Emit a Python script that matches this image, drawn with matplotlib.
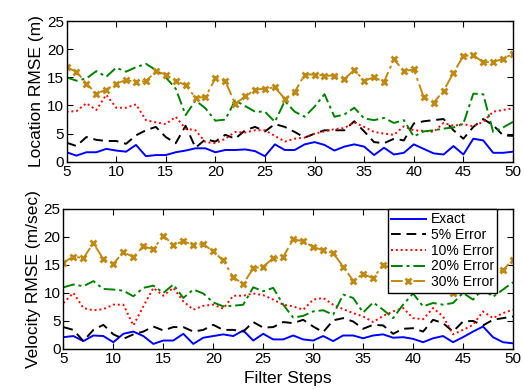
import matplotlib
matplotlib.use("Agg")
import matplotlib.pyplot as plt
import numpy as np

plt.rcParams['font.family'] = ['Liberation Sans', 'DejaVu Sans']

steps = list(range(5, 51))
labels = ['Exact', '5% Error', '10% Error', '20% Error', '30% Error']

# location RMSE (m)
loc_exact = [1.7, 1.1, 1.7, 1.7, 2.3, 2.0, 1.8, 3.0, 1.0, 1.2, 1.2, 1.7, 2.0, 2.4, 2.4, 1.7,
             2.1, 2.1, 2.2, 1.9, 1.0, 3.1, 2.1, 2.1, 3.1, 3.5, 3.0, 2.0, 2.7, 3.1, 2.7, 1.2,
             2.5, 1.3, 1.6, 3.1, 2.3, 1.5, 1.3, 2.8, 1.3, 4.1, 3.8, 1.6, 1.6, 1.8]
loc_5 = [3.4, 2.8, 4.4, 3.9, 3.7, 3.7, 3.2, 4.7, 5.6, 6.2, 4.4, 3.3, 6.4, 2.5, 4.0, 3.6,
         4.8, 4.1, 5.6, 6.2, 5.4, 6.7, 6.2, 5.3, 4.3, 5.0, 5.6, 5.6, 5.6, 7.2, 5.4, 3.5,
         3.3, 4.1, 3.8, 6.8, 7.2, 7.4, 7.6, 5.6, 4.1, 6.2, 7.6, 6.5, 4.7, 4.6]
loc_10 = [8.9, 9.0, 10.4, 9.2, 11.9, 9.6, 9.6, 10.2, 7.4, 7.0, 6.7, 8.0, 5.9, 5.6, 3.5, 3.3,
          4.1, 5.3, 5.2, 5.6, 5.6, 4.6, 3.6, 4.1, 4.3, 5.0, 5.4, 5.8, 6.0, 7.0, 6.2, 5.3,
          5.0, 4.8, 6.3, 5.6, 5.5, 5.3, 6.9, 6.4, 6.7, 6.3, 7.1, 8.9, 9.2, 9.5]
loc_20 = [15.0, 14.4, 14.8, 16.1, 15.1, 16.7, 16.0, 16.8, 17.4, 16.3, 15.0, 13.0, 8.3, 10.9, 9.5, 7.3,
          7.5, 10.9, 9.9, 8.9, 8.9, 7.1, 10.8, 8.9, 8.0, 9.8, 12.0, 8.0, 8.4, 9.6, 7.7, 7.4,
          7.8, 6.9, 7.4, 4.5, 5.4, 5.6, 5.9, 6.1, 6.8, 12.1, 12.0, 5.3, 6.1, 7.1]
loc_30 = [16.8, 16.0, 13.9, 12.1, 12.8, 13.9, 14.5, 14.2, 14.3, 16.1, 15.5, 14.4, 13.6, 11.4, 11.5, 14.8,
          14.3, 10.3, 11.6, 12.8, 13.0, 13.2, 11.2, 12.4, 15.5, 15.5, 15.3, 15.3, 14.7, 16.3, 14.4, 15.0,
          14.2, 18.2, 16.1, 16.4, 11.5, 10.5, 12.6, 15.8, 18.8, 18.9, 17.7, 17.7, 18.3, 19.2]

# velocity RMSE (m/sec)
vel_exact = [2.1, 2.3, 1.4, 2.4, 2.3, 1.2, 2.7, 3.1, 2.3, 0.9, 1.5, 1.5, 2.7, 0.9, 2.0, 2.3,
             2.6, 2.3, 3.3, 1.5, 2.7, 1.7, 1.7, 2.4, 1.7, 1.5, 2.3, 1.4, 2.4, 2.4, 1.9, 2.4,
             2.6, 2.0, 2.1, 1.8, 1.2, 1.9, 2.3, 1.2, 2.1, 3.1, 4.0, 2.1, 1.2, 1.0]
vel_5 = [3.9, 3.4, 1.4, 3.4, 4.3, 2.6, 1.8, 2.6, 3.1, 4.0, 3.3, 3.9, 3.9, 3.1, 3.4, 4.3,
         3.4, 3.4, 3.1, 4.8, 3.8, 3.9, 4.8, 4.6, 5.2, 4.0, 3.0, 5.1, 5.5, 4.9, 3.6, 4.3,
         4.2, 2.7, 3.6, 3.7, 3.1, 5.2, 4.6, 3.1, 4.9, 5.0, 4.2, 5.2, 5.5, 5.8]
vel_10 = [8.2, 10.0, 7.3, 6.9, 7.1, 7.9, 7.9, 4.2, 7.6, 10.9, 9.5, 10.9, 8.5, 7.0, 7.7, 7.9,
          7.2, 9.5, 9.5, 9.9, 9.6, 8.8, 7.9, 7.6, 7.0, 8.8, 9.1, 7.9, 7.1, 6.4, 5.8, 4.8,
          5.9, 6.7, 7.3, 5.5, 5.3, 7.3, 5.8, 2.6, 3.4, 4.3, 6.7, 5.5, 6.4, 7.0]
vel_20 = [11.0, 11.5, 11.2, 12.1, 10.7, 10.6, 10.4, 9.4, 10.9, 11.3, 10.0, 11.5, 9.1, 10.6, 9.9, 8.3,
          7.6, 7.7, 7.9, 11.0, 10.3, 10.9, 7.9, 5.6, 5.9, 6.7, 6.9, 6.1, 9.7, 9.1, 6.5, 8.3,
          7.0, 5.5, 7.9, 9.9, 7.6, 8.2, 7.9, 8.2, 10.0, 8.8, 10.7, 9.3, 10.6, 11.9]
vel_30 = [15.4, 16.5, 16.2, 18.9, 16.0, 15.2, 17.3, 16.4, 18.3, 17.8, 20.2, 18.6, 19.2, 18.6, 18.7, 17.4,
          15.8, 12.8, 11.6, 14.4, 14.7, 16.2, 16.4, 19.6, 19.2, 18.2, 17.6, 17.1, 14.7, 12.2, 13.4, 12.6,
          15.0, 14.3, 13.4, 11.8, 11.4, 11.4, 11.4, 10.0, 10.6, 11.2, 12.3, 13.2, 14.1, 15.9]

colors = ['#0000ff', '#000000', '#ff0000', '#008000', '#bf8a12']
styles = ['-', (0, (5, 3)), (0, (1, 1.5)), (0, (6, 2, 1.5, 2)), (0, (6, 2, 1.5, 2))]
markers = [None, None, None, None, 'x']

fig = plt.figure(figsize=(5.24, 3.89), dpi=100)
ax1 = fig.add_axes([0.127, 0.584, 0.852, 0.362])
ax2 = fig.add_axes([0.121, 0.103, 0.858, 0.360])


def draw(ax, series):
    for data, lab, c, ls, mk in zip(series, labels, colors, styles, markers):
        ax.plot(steps, data, color=c, linestyle=ls, linewidth=1.4, label=lab,
                marker=mk, markersize=4.5, markeredgewidth=2)
    ax.set_xlim(5, 50)
    ax.set_ylim(0, 25)
    ax.set_xticks(range(5, 51, 5))
    ax.set_yticks(range(0, 26, 5))
    ax.tick_params(direction='in', top=True, right=True, labelsize=11, length=4, pad=2)
    for s in ax.spines.values():
        s.set_linewidth(1.0)


draw(ax1, [loc_exact, loc_5, loc_10, loc_20, loc_30])
draw(ax2, [vel_exact, vel_5, vel_10, vel_20, vel_30])

ax1.set_ylabel('Location RMSE (m)', fontsize=12.5, labelpad=2)
ax2.set_ylabel('Velocity RMSE (m/sec)', fontsize=12.5, labelpad=2)
ax2.set_xlabel('Filter Steps', fontsize=12.5, labelpad=4)

leg = ax2.legend(loc='upper right', bbox_to_anchor=(0.965, 1.0), fontsize=10, handlelength=2.5,
                 borderaxespad=0, labelspacing=0.12, handletextpad=0.35, fancybox=False,
                 framealpha=1, borderpad=0.25)
leg.get_frame().set_edgecolor('black')
leg.get_frame().set_linewidth(1.0)

plt.savefig('out.png', dpi=100)
